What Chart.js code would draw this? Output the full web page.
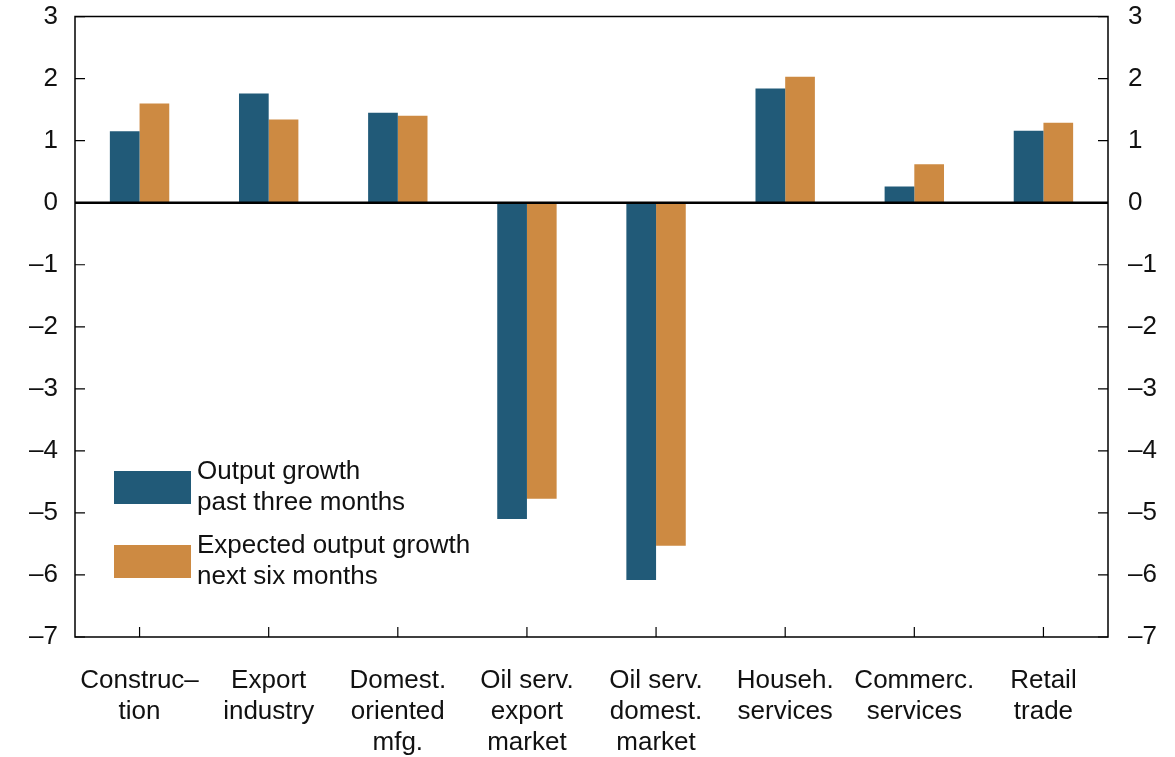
<!DOCTYPE html>
<html>
<head>
<meta charset="utf-8">
<script src="https://cdn.jsdelivr.net/npm/chart.js@4"></script>
<style>
  html, body { margin: 0; padding: 0; background: #fff; overflow: hidden; }
  #wrap { width: 1175px; height: 757px; overflow: hidden; position: relative; }
  #grafico { position: absolute; left: 0; top: -19px; }
</style>
</head>
<body>
<div id="wrap"><canvas id="grafico" width="1175" height="776"></canvas></div>
<script>
const categories = [
  ["Construc\u2013", "tion"],
  ["Export", "industry"],
  ["Domest.", "oriented", "mfg."],
  ["Oil serv.", "export", "market"],
  ["Oil serv.", "domest.", "market"],
  ["Househ.", "services"],
  ["Commerc.", "services"],
  ["Retail", "trade"]
];
const pastThreeMonths = [1.15, 1.76, 1.45, -5.10, -6.08, 1.84, 0.26, 1.16];
const nextSixMonths = [1.60, 1.34, 1.40, -4.77, -5.53, 2.03, 0.62, 1.29];
const seriesNames = [["Output growth", "past three months"], ["Expected output growth", "next six months"]];
const yTicks = [3, 2, 1, 0, -1, -2, -3, -4, -5, -6, -7];

const BLUE = "#215a78";
const ORANGE = "#cd8a42";
const FONT = "'Liberation Sans', Arial, Helvetica, sans-serif";
const SHIFT = 19; // canvas is moved up by this much

const fmt = (v) => (v < 0 ? "\u2013" + Math.abs(v) : String(v));

// frame, inward ticks, zero line and legend
const decor = {
  id: "decor",
  afterDatasetsDraw(chart) {
    const { ctx, chartArea: a, scales } = chart;
    const y = scales.y;
    const x = scales.x;
    ctx.save();
    ctx.strokeStyle = "#000";
    ctx.lineWidth = 1.5;
    ctx.beginPath();
    ctx.rect(a.left, a.top, a.right - a.left, a.bottom - a.top);
    ctx.stroke();
    ctx.lineWidth = 1.2;
    yTicks.forEach((v) => {
      const py = y.getPixelForValue(v);
      ctx.beginPath();
      ctx.moveTo(a.left, py); ctx.lineTo(a.left + 10, py);
      ctx.moveTo(a.right, py); ctx.lineTo(a.right - 10, py);
      ctx.stroke();
    });
    categories.forEach((c, i) => {
      const px = x.getPixelForValue(i);
      ctx.beginPath();
      ctx.moveTo(px, a.bottom); ctx.lineTo(px, a.bottom - 10);
      ctx.stroke();
    });
    const z = y.getPixelForValue(0);
    ctx.lineWidth = 2.5;
    ctx.beginPath();
    ctx.moveTo(a.left, z); ctx.lineTo(a.right, z);
    ctx.stroke();

    // legend
    const colors = [BLUE, ORANGE];
    const boxTop = [471 + SHIFT, 545 + SHIFT];
    ctx.font = "26px " + FONT;
    ctx.textBaseline = "middle";
    seriesNames.forEach((lines, i) => {
      ctx.fillStyle = colors[i];
      ctx.fillRect(114, boxTop[i], 77, 33);
      ctx.fillStyle = "#111";
      lines.forEach((t, j) => ctx.fillText(t, 197, boxTop[i] + 1 + j * 31));
    });
    ctx.restore();
  }
};

const ctx = document.getElementById("grafico").getContext("2d");
new Chart(ctx, {
  type: "bar",
  data: {
    labels: categories,
    datasets: [
      { label: seriesNames[0].join(" "), data: pastThreeMonths, backgroundColor: BLUE, barPercentage: 1, categoryPercentage: 0.46 },
      { label: seriesNames[1].join(" "), data: nextSixMonths, backgroundColor: ORANGE, barPercentage: 1, categoryPercentage: 0.46 }
    ]
  },
  options: {
    responsive: false,
    animation: false,
    layout: { padding: 0 },
    plugins: { legend: { display: false }, tooltip: { enabled: false } },
    scales: {
      x: {
        grid: { display: false, drawTicks: false },
        border: { display: false },
        ticks: { color: "#111", font: { size: 26, family: FONT, lineHeight: 1.2 }, padding: 28, maxRotation: 0, autoSkip: false },
        afterFit: (s) => { s.height = 120; }
      },
      y: {
        position: "left",
        min: -7, max: 3,
        grid: { display: false, drawTicks: false },
        border: { display: false },
        ticks: { stepSize: 1, color: "#111", font: { size: 26, family: FONT }, padding: 17, callback: fmt },
        afterFit: (s) => { s.width = 75; }
      },
      y2: {
        position: "right",
        min: -7, max: 3,
        grid: { display: false, drawTicks: false },
        border: { display: false },
        ticks: { stepSize: 1, color: "#111", font: { size: 26, family: FONT }, padding: 20, callback: fmt },
        afterFit: (s) => { s.width = 67; }
      }
    }
  },
  plugins: [decor]
});
</script>
</body>
</html>
